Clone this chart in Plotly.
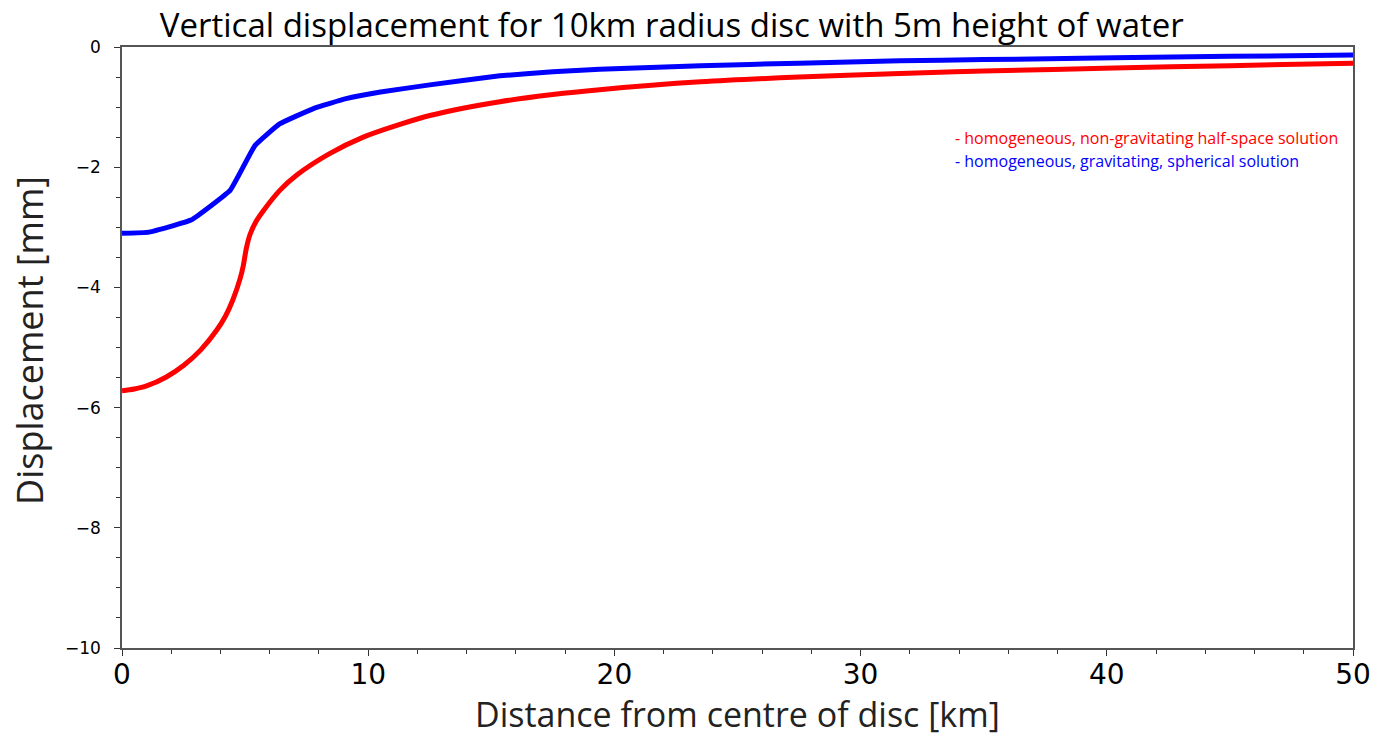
import plotly.graph_objects as go

# Homogeneous, non-gravitating half-space solution (red)
x_half = [0, 0.5, 1.0, 1.8, 2.5, 3.2, 3.85, 4.2, 4.5, 4.8, 4.93, 5.05, 5.2, 5.45, 5.75, 6.4, 7.1, 8.45,
          9.8, 11.2, 12.5, 15.35, 17.5, 19.4, 23.5, 27.5, 31.6, 35, 40.3, 45, 50]
y_half = [-5.72, -5.69, -5.64, -5.49, -5.30, -5.04, -4.71, -4.48, -4.21, -3.85, -3.63, -3.35, -3.12,
          -2.90, -2.72, -2.39, -2.13, -1.77, -1.50, -1.30, -1.14, -0.91, -0.79, -0.71, -0.58, -0.50,
          -0.44, -0.40, -0.35, -0.31, -0.27]

# Homogeneous, gravitating, spherical solution (blue)
x_sph = [0, 1.1, 2.8, 4.4, 5.4, 6.4, 7.8, 9.1, 10.5, 12.5, 15.35, 17.5, 19.4, 23.5, 27.5, 31.6,
         35, 40.3, 45, 50]
y_sph = [-3.10, -3.08, -2.88, -2.38, -1.64, -1.28, -1.02, -0.86, -0.75, -0.63, -0.48, -0.41,
         -0.37, -0.31, -0.27, -0.23, -0.21, -0.18, -0.155, -0.135]

title_text = "Vertical displacement for 10km radius disc with 5m height of water"
x_title = "Distance from centre of disc [km]"
y_title = "Displacement [mm]"
legend_half = "- homogeneous, non-gravitating half-space solution"
legend_sph = "- homogeneous, gravitating, spherical solution"

fig = go.Figure()
fig.add_trace(go.Scatter(x=x_half, y=y_half, mode="lines",
                         line=dict(color="#ff0000", width=5, shape="spline", smoothing=0.9),
                         showlegend=False, name="half-space"))
fig.add_trace(go.Scatter(x=x_sph, y=y_sph, mode="lines",
                         line=dict(color="#0000ff", width=5, shape="spline", smoothing=0.3),
                         showlegend=False, name="spherical"))

fig.add_annotation(x=0.675, y=0.849, xref="paper", yref="paper", xanchor="left", yanchor="middle",
                   text=legend_half, showarrow=False,
                   font=dict(family="Open Sans", size=16, color="#ff0000"))
fig.add_annotation(x=0.675, y=0.810, xref="paper", yref="paper", xanchor="left", yanchor="middle",
                   text=legend_sph, showarrow=False,
                   font=dict(family="Open Sans", size=16, color="#0000ff"))

# axis titles
fig.add_annotation(x=-0.0747, y=0.511, xref="paper", yref="paper", xanchor="center", yanchor="middle",
                   text=y_title, textangle=-90, showarrow=False,
                   font=dict(family="Open Sans", size=36, color="#222"))
fig.add_annotation(x=0.4996, y=-0.110, xref="paper", yref="paper", xanchor="center", yanchor="middle",
                   text=x_title, showarrow=False,
                   font=dict(family="Open Sans", size=34, color="#222"))

fig.update_layout(
    width=1388, height=736,
    paper_bgcolor="white", plot_bgcolor="white",
    margin=dict(l=122, r=35, t=47, b=88),
    title=dict(text=title_text, x=0.484, xanchor="center", y=0.966, yanchor="middle",
               font=dict(family="Open Sans", size=33, color="black")),
    xaxis=dict(range=[0, 50], tickvals=[0, 10, 20, 30, 40, 50], ticks="outside", ticklen=6,
               tickcolor="#333", showgrid=False, zeroline=False, showline=True, linecolor="#555",
               linewidth=1.5, mirror=True, automargin=False, ticklabelstandoff=-5,
               tickfont=dict(family="DejaVu Sans", size=28, color="black"),
               minor=dict(dtick=2, ticks="outside", ticklen=4, tickcolor="#333", showgrid=False)),
    yaxis=dict(range=[-10, 0], tickvals=[0, -2, -4, -6, -8, -10], ticks="outside", ticklen=6,
               tickcolor="#333", showgrid=False, zeroline=False, showline=True, linecolor="#555",
               linewidth=1.5, mirror=True, automargin=False, ticklabelstandoff=10,
               tickfont=dict(family="DejaVu Sans", size=17, color="black"),
               minor=dict(dtick=0.5, ticks="outside", ticklen=4, tickcolor="#333", showgrid=False)),
)

fig.write_html("out.html", config={"displayModeBar": False},
               post_script="document.body.style.margin='0';document.body.style.overflow='hidden';")
